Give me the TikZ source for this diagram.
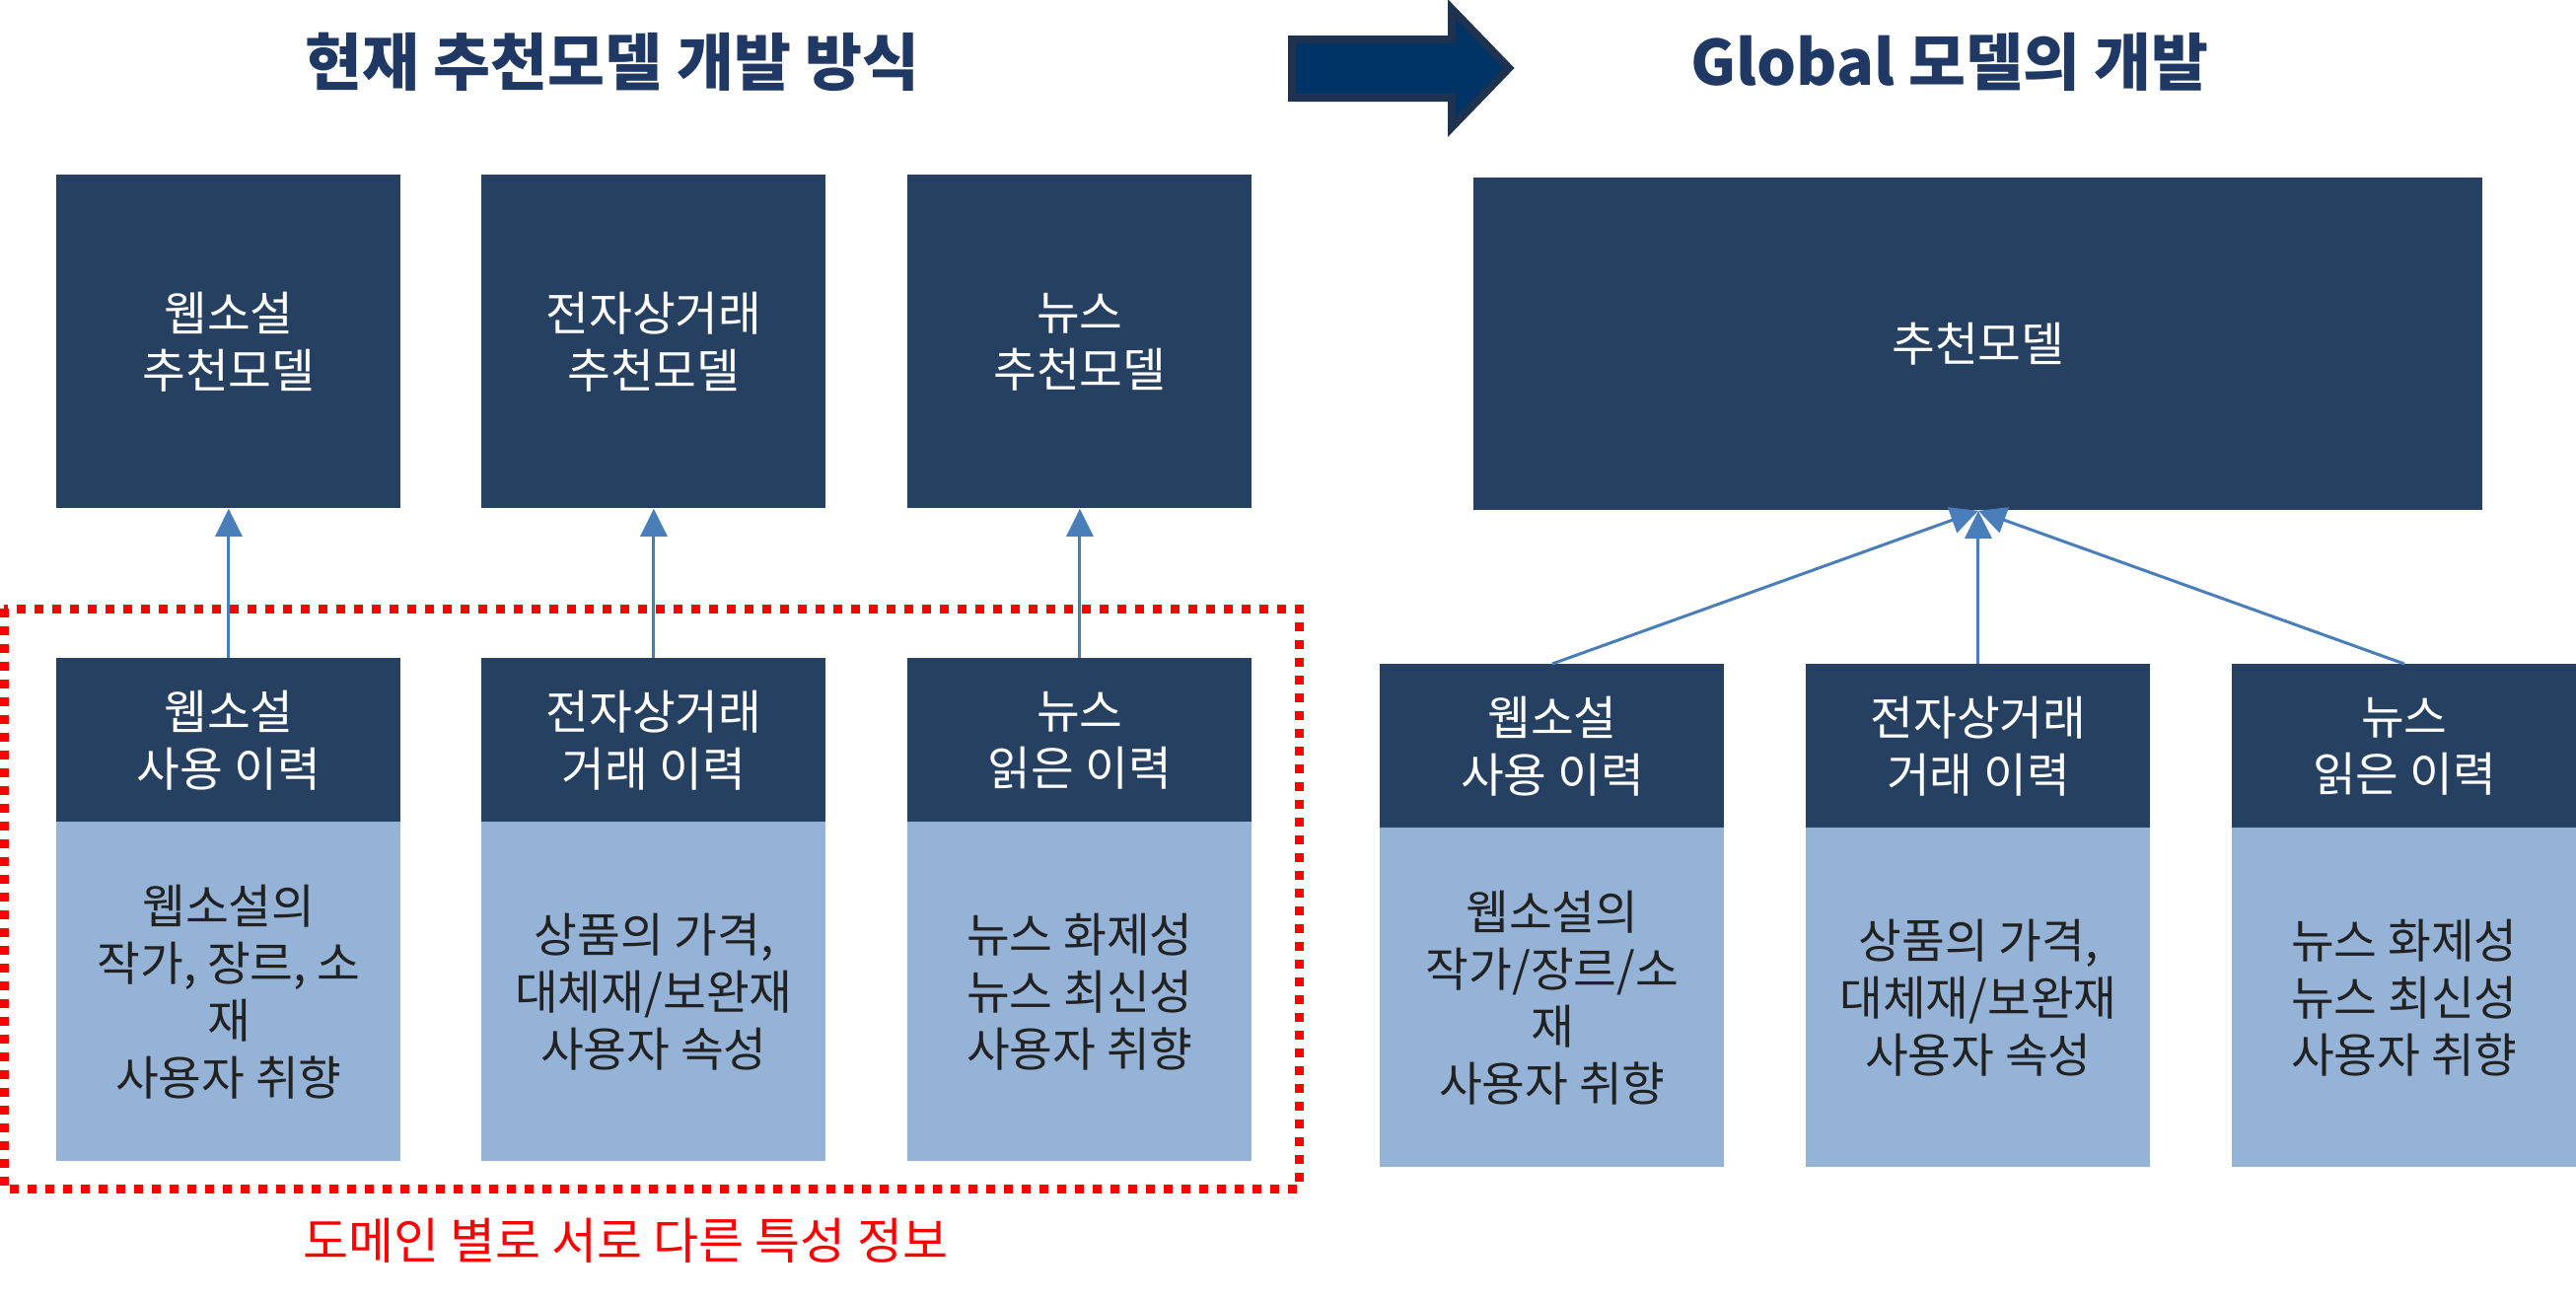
\documentclass[tikz,border=0pt]{standalone}
\usepackage{fontspec}
\setmainfont{Noto Sans CJK KR}
\usetikzlibrary{arrows.meta}
\definecolor{navy}{HTML}{264061}
\definecolor{lightb}{HTML}{95B3D7}
\definecolor{connc}{HTML}{4A7EBB}
\definecolor{arrfill}{HTML}{003366}
\definecolor{arredge}{HTML}{1F3250}
\definecolor{titlec}{HTML}{1F3864}
\definecolor{bodyc}{HTML}{222222}
\begin{document}
\begin{tikzpicture}[x=0.5pt,y=-0.5pt,
  box/.style={inner sep=0pt, anchor=north west, align=center, minimum width=174.5pt,
    font=\fontsize{23.8}{29}\selectfont},
  darkbox/.style={box, fill=navy, text=white},
  lightbox/.style={box, fill=lightb, text=bodyc},
  connector/.style={draw=connc, line width=1.5pt, -{Triangle[length=14pt,width=13.5pt]}},
  titletext/.style={text=titlec, font=\fontsize{31.5}{36}\selectfont\bfseries},
]
\useasboundingbox[fill=white] (0,0) rectangle (2612,1318);

% titles
\node[titletext] (t1) at (621,63) {현재 추천모델 개발 방식};
\node[titletext] (t2) at (1977,63) {Global 모델의 개발};

% big arrow
\draw[fill=arrfill, draw=arredge, line width=4pt, line join=miter]
  (1310,40) -- (1472,40) -- (1472,9) -- (1530,69) -- (1472,129) -- (1472,99) -- (1310,99) -- cycle;

% left: top model boxes
\node[darkbox, minimum height=169pt] (lt1) at (57,177) {웹소설\\추천모델};
\node[darkbox, minimum height=169pt] (lt2) at (488,177) {전자상거래\\추천모델};
\node[darkbox, minimum height=169pt] (lt3) at (920,177) {뉴스\\추천모델};

% left: history boxes
\node[darkbox, minimum height=83pt] (lh1) at (57,667) {웹소설\\사용 이력};
\node[darkbox, minimum height=83pt] (lh2) at (488,667) {전자상거래\\거래 이력};
\node[darkbox, minimum height=83pt] (lh3) at (920,667) {뉴스\\읽은 이력};
\node[lightbox, minimum height=172pt] (lf1) at (57,833) {웹소설의\\작가, 장르, 소\\재\\사용자 취향};
\node[lightbox, minimum height=172pt] (lf2) at (488,833) {상품의 가격,\\대체재/보완재\\사용자 속성};
\node[lightbox, minimum height=172pt] (lf3) at (920,833) {뉴스 화제성\\뉴스 최신성\\사용자 취향};

\draw[connector] (lh1.north) -- (lt1.south);
\draw[connector] (lh2.north) -- (lt2.south);
\draw[connector] (lh3.north) -- (lt3.south);

% red dotted frame and label
\draw[red, line width=4.5pt, dash pattern=on 4.5pt off 4.5pt] (4,617) rectangle (1317,1205);
\node[text=red, font=\fontsize{25}{30}\selectfont] (lbl) at (634,1258) {도메인 별로 서로 다른 특성 정보};

% right: global model
\node[darkbox, minimum width=511.5pt, minimum height=168.5pt] (rt) at (1494,180) {추천모델};
\node[darkbox, minimum height=83pt] (rh1) at (1399,673) {웹소설\\사용 이력};
\node[darkbox, minimum height=83pt] (rh2) at (1831,673) {전자상거래\\거래 이력};
\node[darkbox, minimum height=83pt] (rh3) at (2263,673) {뉴스\\읽은 이력};
\node[lightbox, minimum height=172pt] (rf1) at (1399,839) {웹소설의\\작가/장르/소\\재\\사용자 취향};
\node[lightbox, minimum height=172pt] (rf2) at (1831,839) {상품의 가격,\\대체재/보완재\\사용자 속성};
\node[lightbox, minimum height=172pt] (rf3) at (2263,839) {뉴스 화제성\\뉴스 최신성\\사용자 취향};

\draw[connector] (rh1.north) -- (rt.south);
\draw[connector] (rh2.north) -- (rt.south);
\draw[connector] (rh3.north) -- (rt.south);
\end{tikzpicture}
\end{document}
